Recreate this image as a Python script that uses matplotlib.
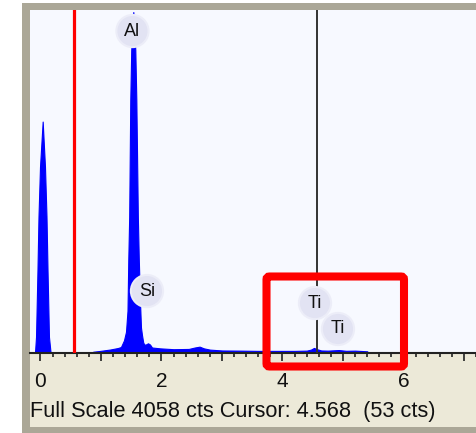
import matplotlib
matplotlib.use("Agg")
import matplotlib.pyplot as plt
from matplotlib.patches import Rectangle, FancyBboxPatch
from matplotlib.ticker import MultipleLocator, FixedLocator, FixedFormatter

# ---------------- data ----------------
energy_kev = [-0.10, -0.09, -0.074, -0.05, -0.033, -0.008, 0.036, 0.074, 0.099,
              0.116, 0.14, 0.165, 0.19, 0.85, 0.87, 0.98, 1.15, 1.28, 1.33, 1.38,
              1.413, 1.438, 1.451, 1.466, 1.484, 1.50, 1.534, 1.567, 1.584, 1.609,
              1.625, 1.645, 1.661, 1.678, 1.699, 1.727, 1.777, 1.81, 1.843, 1.975,
              2.2, 2.45, 2.55, 2.63, 2.70, 2.8, 3.0, 3.3, 3.6, 3.95, 4.2, 4.40,
              4.47, 4.52, 4.57, 4.64, 4.75, 4.93, 5.05, 5.2, 5.40, 5.42]
counts = [0, 15, 190, 980, 1617, 2205, 2738, 2205, 1617, 980, 190, 15, 0, 0, 15,
          24, 41, 59, 71, 150, 250, 500, 1100, 1609, 2993, 3584, 4034, 3584, 2993,
          1609, 1100, 600, 300, 210, 120, 95, 115, 100, 65, 55, 45, 48, 65, 75, 55,
          40, 30, 28, 25, 25, 25, 28, 40, 60, 45, 30, 28, 35, 26, 28, 20, 0]

full_scale = 4058
cursor_kev = 4.568
cursor_cts = 53
marker_kev = 0.55

label_names = ["Al", "Si", "Ti", "Ti"]
label_kev = [1.52, 1.76, 4.537, 4.917]
label_cts = [3809, 733, 591, 284]

tick_values = [0, 1, 2, 3, 4, 5, 6, 7]
tick_labels = ["0", "", "2", "", "4", "", "6", ""]

# ---------------- figure ----------------
W, H = 477, 433
DPI = 100
fig = plt.figure(figsize=(W / DPI, H / DPI), dpi=DPI)
fig.patch.set_facecolor("white")
FONT = "Liberation Sans"

def fx(px):
    return px / W

def fy(py):  # image y (from top) -> figure fraction
    return 1 - py / H

frame_col = "#ABA797"
# grey frame bands
fig.patches.append(Rectangle((fx(22), fy(433)), fx(8), fy(3) - fy(433),
                             transform=fig.transFigure, fc=frame_col, ec="none", zorder=0))
fig.patches.append(Rectangle((fx(22), fy(10)), fx(455), fy(3) - fy(10),
                             transform=fig.transFigure, fc=frame_col, ec="none", zorder=0))
fig.patches.append(Rectangle((fx(22), fy(433)), fx(455), fy(427) - fy(433),
                             transform=fig.transFigure, fc=frame_col, ec="none", zorder=0))
# beige footer panel
fig.patches.append(Rectangle((fx(30), fy(427)), fx(447), fy(353) - fy(427),
                             transform=fig.transFigure, fc="#ECE9D8", ec="none", zorder=0))

ax = fig.add_axes([fx(30), fy(353), fx(447), fy(10) - fy(353)])
ax.set_zorder(1)
ax.set_facecolor("#F7F9FF")

x_left = (30 - 40.5) / 60.5
x_right = (477 - 40.5) / 60.5
ax.set_xlim(x_left, x_right)
ax.set_ylim(0, full_scale)

ax.fill_between(energy_kev, counts, 0, color="#0000FF", lw=0.8, zorder=2)

ax.axvline(marker_kev, color="#FF0000", lw=2.3, zorder=3)
ax.axvline(cursor_kev, color="#333333", lw=1.4, zorder=3)

for name, xe, yc in zip(label_names, label_kev, label_cts):
    ax.text(xe, yc, name, ha="center", va="center", fontsize=13, family=FONT,
            color="#111111", zorder=5,
            bbox=dict(boxstyle="circle,pad=0.42", fc="#E2E3F3", ec="#ECEDF8", lw=1.5))

for s in ["top", "left", "right"]:
    ax.spines[s].set_visible(False)
ax.spines["bottom"].set_color("#222222")
ax.spines["bottom"].set_linewidth(1.5)
ax.set_yticks([])
ax.xaxis.set_major_locator(FixedLocator(tick_values))
ax.xaxis.set_major_formatter(FixedFormatter(tick_labels))
ax.xaxis.set_minor_locator(MultipleLocator(0.2))
ax.tick_params(axis="x", which="major", direction="out", length=5.5, width=1.2,
               color="#222222", pad=8, labelsize=15, labelcolor="#111111")
ax.tick_params(axis="x", which="minor", direction="out", length=3.2, width=1.2,
               color="#222222")
for lab in ax.get_xticklabels():
    lab.set_family(FONT)

footer = fig.text(fx(30), fy(412),
                  f"Full Scale {full_scale} cts Cursor: {cursor_kev:.3f}  ({cursor_cts} cts)",
                  ha="left", va="center", fontsize=13.2, family=FONT, color="#111111", zorder=2)
# fit footer width to ~407 px as in the reference
renderer = fig.canvas.get_renderer()
wpx = footer.get_window_extent(renderer).width
footer.set_fontsize(13.2 * 407.0 / wpx)

# red highlight rectangle
fig.patches.append(FancyBboxPatch((266.5 / DPI, (H - 366.5) / DPI), 137.5 / DPI, 90 / DPI,
                                  boxstyle="round,pad=0,rounding_size=0.03",
                                  transform=fig.dpi_scale_trans, fc="none", ec="#FF0000",
                                  lw=5.8, zorder=10))

fig.savefig("out.png", dpi=DPI)
